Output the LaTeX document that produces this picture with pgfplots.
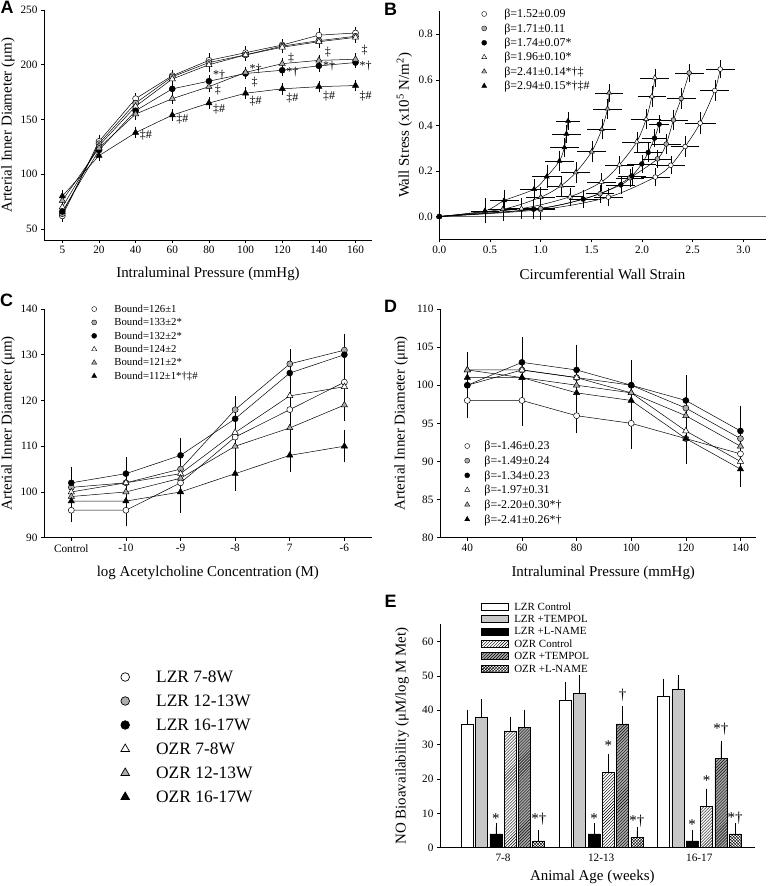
\documentclass[border=0pt]{standalone}
\usepackage{fontspec}
\setmainfont{Liberation Serif}
\newfontfamily\panelfont{Liberation Sans}
\usepackage{pgfplots}
\pgfplotsset{compat=1.18}
\usetikzlibrary{patterns}

\definecolor{gmark}{gray}{0.68}
\definecolor{gbar}{gray}{0.78}
\definecolor{gbarh}{gray}{0.66}

\newcommand\an{\fontsize{12}{12}\selectfont}
\newcommand\ane{\fontsize{15}{15}\selectfont}
\newcommand\pl{\panelfont\bfseries\fontsize{18}{18}\selectfont}
\newcommand\lab{\fontsize{15}{17}\selectfont}

\pgfplotsset{
  every non boxed x axis/.append style={x axis line style={-}, xtick align=outside},
  every non boxed y axis/.append style={y axis line style={-}, ytick align=outside},
  base/.style={
    scale only axis, anchor=south west,
    axis x line=bottom, axis y line=left,
    axis line style={line width=0.6bp, black},
    tick align=outside,
    major tick length=3bp,
    every tick/.style={line width=0.6bp, black},
    /pgf/number format/assume math mode=true,
    tick label style={font=\fontsize{11.3}{13}\selectfont},
    xlabel style={font=\lab}, ylabel style={font=\lab},
    clip=false,
  },
  ln/.style={black, line width=0.5bp, mark size=3bp},
  c1/.style={ln, mark=*, mark options={solid, fill=white, draw=black}},
  c2/.style={ln, mark=*, mark options={solid, fill=gmark, draw=black}},
  c3/.style={ln, mark=*, mark options={solid, fill=black, draw=black}},
  t1/.style={ln, mark=triangle*, mark options={solid, fill=white, draw=black, scale=1.2}},
  t2/.style={ln, mark=triangle*, mark options={solid, fill=gmark, draw=black, scale=1.2}},
  t3/.style={ln, mark=triangle*, mark options={solid, fill=black, draw=black, scale=1.2}},
  eb/.style={error bars/.cd, y dir=both, y explicit,
     error bar style={line width=0.5bp, black, solid},
     error mark options={line width=0.5bp, black, mark size=2.5bp}, /pgfplots/.cd},
  ebxy/.style={error bars/.cd, x dir=both, x explicit, y dir=both, y explicit,
     error bar style={line width=0.5bp, black, solid},
     error mark options={line width=0.5bp, black, mark size=2.2bp}, /pgfplots/.cd},
  mleg/.style n args={3}{legend style={at={(#1,#2)}, anchor=north west, draw=none, fill=none,
     inner sep=0pt, outer sep=0pt, row sep=0pt, column sep=0pt, #3},
     legend cell align=left},
}

\begin{document}
\begin{tikzpicture}[x=1bp, y=1bp, ann/.style={anchor=west, font=\an, inner sep=0.3pt}]
\path[use as bounding box] (0,0) rectangle (768,886);

% ================= Panel A =================
\begin{axis}[base, at={(44bp,646bp)}, width=328bp, height=230bp,
  xmin=-0.5, xmax=8.45, ymin=40, ymax=250,
  xtick={0,...,8}, xticklabels={5,20,40,60,80,100,120,140,160},
  ytick={50,100,150,200,250},
  xlabel={Intraluminal Pressure (mmHg)}, ylabel={Arterial Inner Diameter (μm)},
  xlabel style={at={(rel axis cs:0.5,-0.148)}, anchor=center},
  ylabel style={at={(rel axis cs:-0.11,0.5)}, anchor=center}]
\addplot[c1, eb] coordinates {(0,62) +- (0,3) (1,130) +- (0,4) (2,169) +- (0,3) (3,190) +- (0,3) (4,204) +- (0,4) (5,211) +- (0,4) (6,218) +- (0,3) (7,227) +- (0,4) (8,229) +- (0,3)};
\addplot[c2, eb] coordinates {(0,64) +- (0,3) (1,128) +- (0,4) (2,165) +- (0,3) (3,189) +- (0,3) (4,202) +- (0,3) (5,209) +- (0,3) (6,217) +- (0,3) (7,222) +- (0,3) (8,226) +- (0,3)};
\addplot[t1, eb] coordinates {(0,70) +- (0,3) (1,126) +- (0,4) (2,162) +- (0,3) (3,187) +- (0,3) (4,200) +- (0,4) (5,209) +- (0,3) (6,216) +- (0,3) (7,221) +- (0,3) (8,225) +- (0,3)};
\addplot[c3, eb] coordinates {(0,66) +- (0,3) (1,122) +- (0,3) (2,158) +- (0,3) (3,178) +- (0,3) (4,185) +- (0,3) (5,192) +- (0,3) (6,195) +- (0,3) (7,199) +- (0,3) (8,202) +- (0,3)};
\addplot[t2, eb] coordinates {(0,76) +- (0,3) (1,124) +- (0,3) (2,155) +- (0,3) (3,169) +- (0,3) (4,180) +- (0,3) (5,193) +- (0,3) (6,201) +- (0,3) (7,204) +- (0,3) (8,205) +- (0,3)};
\addplot[t3, eb] coordinates {(0,80) +- (0,3) (1,117) +- (0,3) (2,138) +- (0,3) (3,154) +- (0,3) (4,165) +- (0,3) (5,174) +- (0,3) (6,178) +- (0,3) (7,180) +- (0,3) (8,181) +- (0,3)};
\node[ann] at (axis cs:2.1,136) {‡\#};
\node[ann] at (axis cs:3.1,150.3) {‡\#};
\node[ann] at (axis cs:4.1,159.7) {‡\#};
\node[ann] at (axis cs:5.1,166.4) {‡\#};
\node[ann] at (axis cs:6.1,169.5) {‡\#};
\node[ann] at (axis cs:7.1,171.3) {‡\#};
\node[ann] at (axis cs:8.1,171.6) {‡\#};
\node[ann] at (axis cs:4.1,191) {*†};
\node[ann] at (axis cs:4.15,177) {‡};
\node[ann] at (axis cs:5.1,196) {*†};
\node[ann] at (axis cs:5.15,184) {‡};
\node[ann] at (axis cs:6.15,206) {‡};
\node[ann] at (axis cs:6.1,193) {*†};
\node[ann] at (axis cs:7.15,212) {‡};
\node[ann] at (axis cs:7.1,199) {*†};
\node[ann] at (axis cs:8.15,213) {‡};
\node[ann] at (axis cs:8.1,199) {*†};
\end{axis}

% ================= Panel B =================
\begin{axis}[base, at={(439.3bp,646.7bp)}, width=326.4bp, height=227.8bp,
  xmin=0, xmax=3.22, ymin=-0.1, ymax=0.9,
  xtick={0,0.5,1,1.5,2,2.5,3}, ytick={0,0.2,0.4,0.6,0.8},
  xticklabel style={/pgf/number format/.cd, fixed, fixed zerofill, precision=1},
  yticklabel style={/pgf/number format/.cd, fixed, fixed zerofill, precision=1},
  xlabel={Circumferential Wall Strain}, ylabel={Wall Stress (x10\textsuperscript{5} N/m\textsuperscript{2})},
  xlabel style={at={(rel axis cs:0.5,-0.154)}, anchor=center},
  ylabel style={at={(rel axis cs:-0.107,0.5)}, anchor=center},
  mleg={0.1216}{1.0206}{font=\fontsize{12}{13}\selectfont, nodes={inner sep=0pt, outer sep=0pt, text height=11bp, text depth=3.4bp}},
  legend image code/.code={\path (0bp,0bp) (25bp,0bp); \draw[#1, only marks] plot coordinates {(5bp,0bp)};}]
\addlegendimage{black, mark=*, mark size=2.5bp, mark options={fill=white, draw=black}}
\addlegendentry{β=1.52±0.09}
\addlegendimage{black, mark=*, mark size=2.5bp, mark options={fill=gmark, draw=black}}
\addlegendentry{β=1.71±0.11}
\addlegendimage{black, mark=*, mark size=2.5bp, mark options={fill=black, draw=black}}
\addlegendentry{β=1.74±0.07*}
\addlegendimage{black, mark=triangle*, mark size=2.9bp, mark options={fill=white, draw=black}}
\addlegendentry{β=1.96±0.10*}
\addlegendimage{black, mark=triangle*, mark size=2.9bp, mark options={fill=gmark, draw=black}}
\addlegendentry{β=2.41±0.14*†‡}
\addlegendimage{black, mark=triangle*, mark size=2.9bp, mark options={fill=black, draw=black}}
\addlegendentry{β=2.94±0.15*†‡\#}
\draw[black!60, line width=0.7bp] (axis cs:0,0) -- (axis cs:3.22,0);
\addplot[c1, smooth, mark size=2.4bp, forget plot, ebxy] coordinates {(0,0) +- (0,0) (1.0,0.03) +- (0.12,0.035) (1.668,0.085) +- (0.12,0.03) (2.13,0.173) +- (0.12,0.03) (2.284,0.225) +- (0.12,0.03) (2.425,0.307) +- (0.12,0.035) (2.573,0.41) +- (0.13,0.04) (2.718,0.553) +- (0.12,0.035) (2.771,0.647) +- (0.12,0.03)};
\addplot[c2, smooth, mark size=2.4bp, forget plot, ebxy] coordinates {(0,0) +- (0,0) (1.0,0.035) +- (0.12,0.035) (1.586,0.1) +- (0.12,0.03) (1.88,0.17) +- (0.12,0.03) (2.152,0.253) +- (0.12,0.03) (2.238,0.318) +- (0.12,0.035) (2.31,0.424) +- (0.12,0.035) (2.386,0.518) +- (0.12,0.035) (2.465,0.63) +- (0.12,0.03)};
\addplot[c3, smooth, mark size=2.4bp, forget plot, ebxy] coordinates {(0,0) +- (0,0) (0.93,0.032) +- (0.12,0.035) (1.42,0.076) +- (0.12,0.03) (1.79,0.139) +- (0.12,0.03) (1.9,0.178) +- (0.12,0.03) (1.998,0.231) +- (0.12,0.03) (2.06,0.281) +- (0.12,0.03) (2.123,0.344) +- (0.1,0.03) (2.169,0.405) +- (0.08,0.03)};
\addplot[t1, smooth, mark size=2.4bp, forget plot, ebxy] coordinates {(0,0) +- (0,0) (0.81,0.035) +- (0.12,0.035) (1.29,0.087) +- (0.12,0.03) (1.6,0.152) +- (0.12,0.03) (1.777,0.227) +- (0.12,0.03) (1.948,0.328) +- (0.12,0.035) (2.04,0.427) +- (0.13,0.035) (2.097,0.527) +- (0.12,0.035) (2.126,0.609) +- (0.12,0.03)};
\addplot[t2, smooth, mark size=2.4bp, forget plot, ebxy] coordinates {(0,0) +- (0,0) (0.626,0.032) +- (0.12,0.04) (1.0,0.085) +- (0.12,0.035) (1.2,0.135) +- (0.12,0.035) (1.346,0.193) +- (0.12,0.035) (1.504,0.285) +- (0.12,0.035) (1.603,0.383) +- (0.12,0.035) (1.659,0.473) +- (0.12,0.035) (1.675,0.543) +- (0.12,0.03)};
\addplot[t3, smooth, mark size=2.4bp, forget plot, ebxy] coordinates {(0,0) +- (0,0) (0.45,0.025) +- (0.12,0.045) (0.64,0.07) +- (0.12,0.035) (0.935,0.12) +- (0.12,0.035) (1.06,0.175) +- (0.12,0.04) (1.185,0.244) +- (0.12,0.035) (1.234,0.303) +- (0.12,0.03) (1.254,0.363) +- (0.12,0.03) (1.27,0.419) +- (0.1,0.03)};
\end{axis}

% ================= Panel C =================
\begin{axis}[base, at={(44bp,348.3bp)}, width=327.7bp, height=228.7bp,
  xmin=-0.5, xmax=5.5, ymin=90, ymax=140,
  xtick={0,...,5}, xticklabels={Control,-10,-9,-8,7,-6},
  ytick={90,100,...,140},
  xlabel={log Acetylcholine Concentration (M)}, ylabel={Arterial Inner Diameter (μm)},
  xlabel style={at={(rel axis cs:0.5,-0.156)}, anchor=center},
  ylabel style={at={(rel axis cs:-0.11,0.5)}, anchor=center},
  mleg={0.1373}{1.029}{font=\fontsize{10.8}{12}\selectfont, nodes={inner sep=0pt, outer sep=0pt, text height=10bp, text depth=3.4bp}},
  legend image code/.code={\path (0bp,0bp) (25bp,0bp); \draw[#1, only marks] plot coordinates {(5bp,0bp)};}]
\addlegendimage{black, mark=*, mark size=2.5bp, mark options={fill=white, draw=black}}
\addlegendentry{Bound=126±1}
\addlegendimage{black, mark=*, mark size=2.5bp, mark options={fill=gmark, draw=black}}
\addlegendentry{Bound=133±2*}
\addlegendimage{black, mark=*, mark size=2.5bp, mark options={fill=black, draw=black}}
\addlegendentry{Bound=132±2*}
\addlegendimage{black, mark=triangle*, mark size=2.9bp, mark options={fill=white, draw=black}}
\addlegendentry{Bound=124±2}
\addlegendimage{black, mark=triangle*, mark size=2.9bp, mark options={fill=gmark, draw=black}}
\addlegendentry{Bound=121±2*}
\addlegendimage{black, mark=triangle*, mark size=2.9bp, mark options={fill=black, draw=black}}
\addlegendentry{Bound=112±1*†‡\#}
\addplot[c1, forget plot, eb] coordinates {(0,96) +- (0,2) (1,96) +- (0,3) (2,102) +- (0,3) (3,112) +- (0,2.5) (4,118) +- (0,3) (5,124) +- (0,3)};
\addplot[c2, forget plot, eb] coordinates {(0,101) +- (0,2.5) (1,102) +- (0,3) (2,105) +- (0,3) (3,118) +- (0,2.5) (4,128) +- (0,2.5) (5,131) +- (0,2.5)};
\addplot[c3, forget plot, eb] coordinates {(0,102) +- (0,3) (1,104) +- (0,3) (2,108) +- (0,3.2) (3,116) +- (0,4) (4,126) +- (0,4.7) (5,130) +- (0,4)};
\addplot[t1, forget plot, eb] coordinates {(0,100) +- (0,3) (1,102) +- (0,3) (2,104) +- (0,3) (3,113) +- (0,3) (4,121) +- (0,2) (5,123) +- (0,3)};
\addplot[t2, forget plot, eb] coordinates {(0,99) +- (0,3) (1,100) +- (0,3) (2,103) +- (0,3) (3,110) +- (0,2) (4,114) +- (0,3) (5,119) +- (0,3)};
\addplot[t3, forget plot, eb] coordinates {(0,98) +- (0,3) (1,98) +- (0,3) (2,100) +- (0,4) (3,104) +- (0,3.2) (4,108) +- (0,3) (5,110) +- (0,3)};
\end{axis}

% ================= Panel D =================
\begin{axis}[base, at={(440bp,348.3bp)}, width=316.3bp, height=228.7bp,
  xmin=-0.5, xmax=5.29, ymin=80, ymax=110,
  xtick={0,...,5}, xticklabels={40,60,80,100,120,140},
  ytick={80,85,...,110},
  xlabel={Intraluminal Pressure (mmHg)}, ylabel={Arterial Inner Diameter (μm)},
  xlabel style={at={(rel axis cs:0.516,-0.156)}, anchor=center},
  ylabel style={at={(rel axis cs:-0.123,0.5)}, anchor=center},
  mleg={0.0696}{0.4329}{font=\fontsize{12}{13}\selectfont, nodes={inner sep=0pt, outer sep=0pt, text height=11.2bp, text depth=3.46bp}},
  legend image code/.code={\path (0bp,0bp) (22bp,0bp); \draw[#1, only marks] plot coordinates {(5bp,0bp)};}]
\addlegendimage{black, mark=*, mark size=2.5bp, mark options={fill=white, draw=black}}
\addlegendentry{β=-1.46±0.23}
\addlegendimage{black, mark=*, mark size=2.5bp, mark options={fill=gmark, draw=black}}
\addlegendentry{β=-1.49±0.24}
\addlegendimage{black, mark=*, mark size=2.5bp, mark options={fill=black, draw=black}}
\addlegendentry{β=-1.34±0.23}
\addlegendimage{black, mark=triangle*, mark size=2.9bp, mark options={fill=white, draw=black}}
\addlegendentry{β=-1.97±0.31}
\addlegendimage{black, mark=triangle*, mark size=2.9bp, mark options={fill=gmark, draw=black}}
\addlegendentry{β=-2.20±0.30*†}
\addlegendimage{black, mark=triangle*, mark size=2.9bp, mark options={fill=black, draw=black}}
\addlegendentry{β=-2.41±0.26*†}
\addplot[c1, forget plot, eb] coordinates {(0,98) +- (0,2) (1,98) +- (0,3) (2,96) +- (0,2) (3,95) +- (0,3) (4,93) +- (0,3) (5,91) +- (0,3)};
\addplot[c2, forget plot, eb] coordinates {(0,100) +- (0,2) (1,102) +- (0,2.5) (2,101) +- (0,3) (3,100) +- (0,3) (4,97) +- (0,3) (5,93) +- (0,3)};
\addplot[c3, forget plot, eb] coordinates {(0,100) +- (0,3) (1,103) +- (0,3) (2,102) +- (0,3) (3,100) +- (0,3) (4,98) +- (0,3) (5,94) +- (0,3)};
\addplot[t1, forget plot, eb] coordinates {(0,102) +- (0,2) (1,102) +- (0,2) (2,101) +- (0,3) (3,99) +- (0,2.5) (4,94) +- (0,3) (5,90) +- (0,3)};
\addplot[t2, forget plot, eb] coordinates {(0,102) +- (0,2) (1,101) +- (0,2) (2,100) +- (0,3) (3,99) +- (0,2.5) (4,96) +- (0,3) (5,92) +- (0,3)};
\addplot[t3, forget plot, eb] coordinates {(0,101) +- (0,3) (1,101) +- (0,3) (2,99) +- (0,2.5) (3,98) +- (0,3) (4,93) +- (0,3) (5,89) +- (0,2)};
\end{axis}

% ================= Group legend =================
\begin{axis}[at={(110bp,76bp)}, anchor=south west, scale only axis, width=150bp, height=145bp,
  hide axis, xmin=0, xmax=1, ymin=0, ymax=1,
  mleg={0}{1}{font=\fontsize{17.5}{20}\selectfont, nodes={inner sep=0pt, outer sep=0pt, text height=18bp, text depth=6bp}},
  legend image code/.code={\path (0bp,0bp) (45.7bp,0bp); \draw[#1, only marks] plot coordinates {(15bp,0bp)};}]
\addlegendimage{black, mark=*, mark size=4.3bp, mark options={fill=white, draw=black, line width=0.7bp}}
\addlegendentry{LZR 7-8W}
\addlegendimage{black, mark=*, mark size=4.3bp, mark options={fill=gmark, draw=black, line width=0.7bp}}
\addlegendentry{LZR 12-13W}
\addlegendimage{black, mark=*, mark size=4.3bp, mark options={fill=black, draw=black, line width=0.7bp}}
\addlegendentry{LZR 16-17W}
\addlegendimage{black, mark=triangle*, mark size=5bp, mark options={fill=white, draw=black, line width=0.7bp}}
\addlegendentry{OZR 7-8W}
\addlegendimage{black, mark=triangle*, mark size=5bp, mark options={fill=gmark, draw=black, line width=0.7bp}}
\addlegendentry{OZR 12-13W}
\addlegendimage{black, mark=triangle*, mark size=5bp, mark options={fill=black, draw=black, line width=0.7bp}}
\addlegendentry{OZR 16-17W}
\end{axis}

% ================= Panel E =================
\begin{axis}[base, at={(440bp,38.3bp)}, width=314.7bp, height=223.4bp,
  xmin=0.358, xmax=3.564, ymin=0, ymax=65,
  xtick={1,2,3}, xticklabels={7-8,12-13,16-17}, xtick style={draw=none},
  ytick={0,10,...,60},
  ybar, bar width=12bp,
  xlabel={Animal Age (weeks)}, ylabel={NO Bioavailability (μM/log M Met)},
  xlabel style={at={(rel axis cs:0.484,-0.1325)}, anchor=center},
  ylabel style={at={(rel axis cs:-0.121,0.5)}, anchor=center},
  every axis plot/.append style={line width=0.6bp, draw=black,
    error bars/.cd, y dir=plus, y explicit,
    error bar style={line width=0.6bp, black},
    error mark options={line width=0.6bp, black, mark size=4bp}, /pgfplots/.cd}]
\addplot[fill=white, bar shift=-35.75bp] coordinates {(1,36) +- (0,3) (2,43) +- (0,4) (3,44) +- (0,4)};
\addplot[fill=gbar, bar shift=-21.45bp] coordinates {(1,38) +- (0,4) (2,45) +- (0,4) (3,46) +- (0,3)};
\addplot[fill=black, bar shift=-7.15bp] coordinates {(1,4) +- (0,2) (2,4) +- (0,2) (3,2) +- (0,2)};
\addplot[fill=white, postaction={pattern=north east lines}, bar shift=7.15bp] coordinates {(1,34) +- (0,3) (2,22) +- (0,4) (3,12) +- (0,4)};
\addplot[fill=gbarh, postaction={pattern=north east lines}, bar shift=21.45bp] coordinates {(1,35) +- (0,4) (2,36) +- (0,4) (3,26) +- (0,4)};
\addplot[fill=white, postaction={pattern=crosshatch}, bar shift=35.75bp] coordinates {(1,2) +- (0,2) (2,3) +- (0,2) (3,4) +- (0,2)};
\node[font=\ane] at (axis cs:0.927,8.6) {*};
\node[font=\ane] at (axis cs:1.364,8.4) {*†};
\node[font=\ane] at (axis cs:1.927,8.6) {*};
\node[font=\ane] at (axis cs:2.073,29.6) {*};
\node[font=\ane] at (axis cs:2.218,44.5) {†};
\node[font=\ane] at (axis cs:2.364,7.6) {*†};
\node[font=\ane] at (axis cs:2.927,6.6) {*};
\node[font=\ane] at (axis cs:3.073,19.6) {*};
\node[font=\ane] at (axis cs:3.218,34.5) {*†};
\node[font=\ane] at (axis cs:3.364,8.6) {*†};
\end{axis}

% ================= Panel E legend =================
\begin{axis}[at={(440bp,38.3bp)}, anchor=south west, scale only axis, width=314.7bp, height=223.4bp,
  hide axis, xmin=0, xmax=1, ymin=0, ymax=1,
  mleg={0.1293}{1.1065}{font=\fontsize{11}{12}\selectfont, nodes={inner sep=0pt, outer sep=0pt, text height=9.7bp, text depth=2.7bp}},
  legend image code/.code={\path (0bp,0bp) (33bp,0bp); \draw[#1] (0bp,-3.5bp) rectangle (27bp,3.5bp);}]
\addlegendimage{draw=black, line width=0.6bp, fill=white}
\addlegendentry{LZR Control}
\addlegendimage{draw=black, line width=0.6bp, fill=gbar}
\addlegendentry{LZR +TEMPOL}
\addlegendimage{draw=black, line width=0.6bp, fill=black}
\addlegendentry{LZR +L-NAME}
\addlegendimage{draw=black, line width=0.6bp, fill=white, postaction={pattern=north east lines}}
\addlegendentry{OZR Control}
\addlegendimage{draw=black, line width=0.6bp, fill=gbarh, postaction={pattern=north east lines}}
\addlegendentry{OZR +TEMPOL}
\addlegendimage{draw=black, line width=0.6bp, fill=white, postaction={pattern=crosshatch}}
\addlegendentry{OZR +L-NAME}
\end{axis}

% ================= Panel letters =================
\node[font=\pl] at (7,878.5) {A};
\node[font=\pl] at (390.5,876.5) {B};
\node[font=\pl] at (6.7,586) {C};
\node[font=\pl] at (390.5,579.7) {D};
\node[font=\pl] at (390.5,285) {E};
\end{tikzpicture}
\end{document}
